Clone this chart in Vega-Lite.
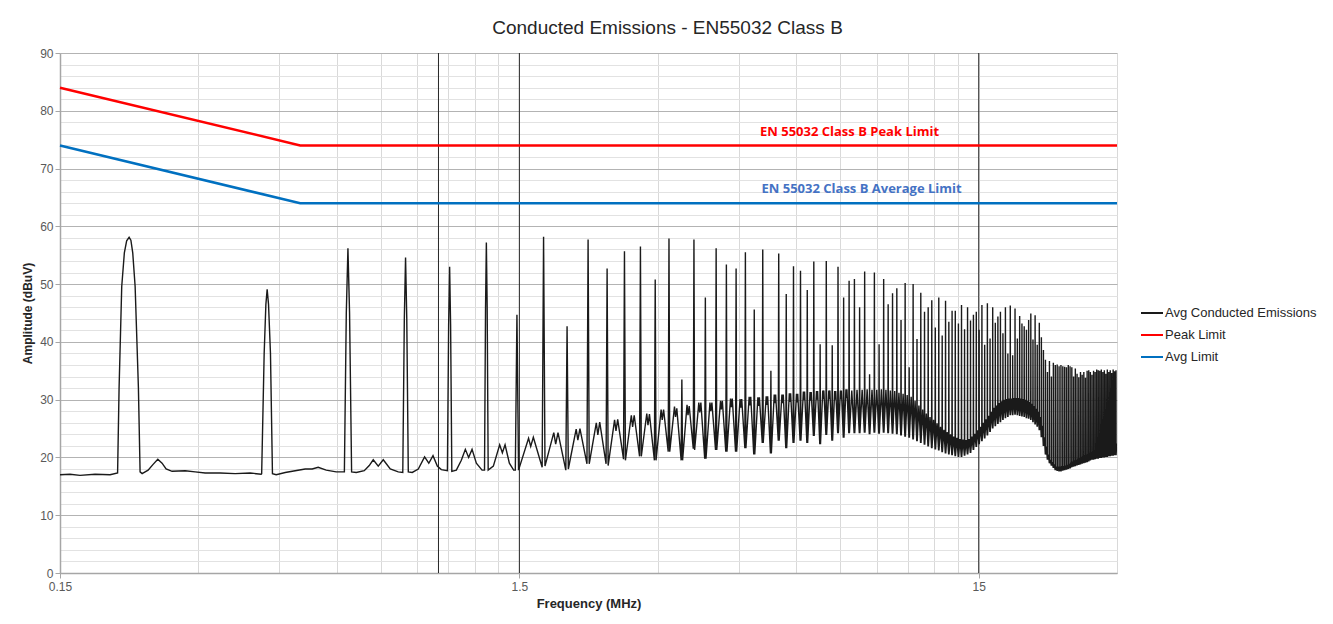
{
"$schema":"https://vega.github.io/schema/vega-lite/v6.json",
"width":1057,"height":520,
"autosize":{"type":"none"},
"padding":{"left":60,"top":53,"right":216,"bottom":51},
"background":"white",
"config":{"view":{"stroke":null},"font":"Liberation Sans"},
"title":{"text":"Conducted Emissions - EN55032 Class B","font":"Liberation Sans","fontSize":19,"fontWeight":"normal","color":"#262626","anchor":"middle","frame":"group","dx":79,"offset":9},
"datasets":{
"em":[
{"f":0.15,"v":17.0},{"f":0.1577,"v":17.1},{"f":0.1658,"v":16.9},{"f":0.1788,"v":17.1},{"f":0.1928,"v":17.0},{"f":0.2002,"v":17.3},{"f":0.2017,"v":32.0},{"f":0.2044,"v":49.6},{"f":0.2071,"v":55.4},{"f":0.2095,"v":57.5},{"f":0.2121,"v":58.1},{"f":0.2140,"v":57.6},{"f":0.2160,"v":55.4},{"f":0.2186,"v":49.6},{"f":0.2222,"v":32.2},{"f":0.2241,"v":17.5},{"f":0.2264,"v":17.2},{"f":0.2333,"v":17.8},{"f":0.2392,"v":18.8},{"f":0.2449,"v":19.7},{"f":0.2502,"v":19.0},{"f":0.2553,"v":18.0},{"f":0.2631,"v":17.6},{"f":0.2809,"v":17.7},{"f":0.2953,"v":17.5},{"f":0.3105,"v":17.3},{"f":0.3347,"v":17.3},{"f":0.3609,"v":17.2},{"f":0.3891,"v":17.3},{"f":0.4111,"v":17.1},
{"f":0.4122,"v":17.2},{"f":0.4174,"v":38.0},{"f":0.4210,"v":46.5},{"f":0.4237,"v":49.1},{"f":0.4266,"v":46.5},{"f":0.4308,"v":38.0},{"f":0.4351,"v":17.2},
{"f":0.4433,"v":17.0},{"f":0.4638,"v":17.4},{"f":0.4876,"v":17.7},{"f":0.5127,"v":18.0},{"f":0.5310,"v":18.0},{"f":0.5472,"v":18.3},{"f":0.5697,"v":17.8},{"f":0.5990,"v":17.5},
{"f":0.6240,"v":17.5},{"f":0.6300,"v":45.0},{"f":0.6352,"v":56.2},{"f":0.6404,"v":45.0},{"f":0.6470,"v":17.5},
{"f":0.6622,"v":17.4},{"f":0.6893,"v":17.7},{"f":0.7068,"v":18.6},{"f":0.7211,"v":19.6},{"f":0.7394,"v":18.5},{"f":0.7582,"v":19.6},{"f":0.7853,"v":18.0},{"f":0.8174,"v":17.5},
{"f":0.8362,"v":17.4},{"f":0.8427,"v":44.0},{"f":0.8479,"v":54.6},{"f":0.8531,"v":44.0},{"f":0.8596,"v":17.5},
{"f":0.8769,"v":17.4},{"f":0.9038,"v":18.0},{"f":0.9328,"v":20.1},{"f":0.9527,"v":19.0},{"f":0.9730,"v":20.3},{"f":0.9942,"v":18.5},{"f":1.0144,"v":17.9},
{"f":1.0458,"v":17.7},{"f":1.0523,"v":43.0},{"f":1.0575,"v":53.0},{"f":1.0627,"v":43.0},{"f":1.0692,"v":17.6},
{"f":1.0937,"v":17.8},{"f":1.1214,"v":19.5},{"f":1.1442,"v":21.4},{"f":1.1633,"v":20.0},{"f":1.1833,"v":21.4},{"f":1.2091,"v":19.0},{"f":1.2442,"v":17.8},
{"f":1.2596,"v":17.8},{"f":1.2661,"v":46.0},{"f":1.2713,"v":57.2},{"f":1.2765,"v":46.0},{"f":1.2830,"v":17.8},
{"f":1.3167,"v":18.5},{"f":1.3590,"v":22.2},{"f":1.3775,"v":20.8},{"f":1.3963,"v":22.2},{"f":1.4267,"v":19.0},{"f":1.4578,"v":17.8},
{"f":1.4699,"v":17.8},{"f":1.4819,"v":44.7},{"f":1.4939,"v":17.8},{"f":1.5708,"v":23.3},{"f":1.5878,"v":21.9},{"f":1.6089,"v":23.5},
{"f":1.6816,"v":18.3},{"f":1.6936,"v":58.2},{"f":1.7056,"v":18.5},{"f":1.7825,"v":24.3},{"f":1.7995,"v":22.3},{"f":1.8206,"v":24.3},
{"f":1.8933,"v":17.8},{"f":1.9053,"v":42.7},{"f":1.9173,"v":18.0},{"f":1.9942,"v":24.9},{"f":2.0112,"v":23.0},{"f":2.0323,"v":25.0},
{"f":2.105,"v":18.9},{"f":2.117,"v":57.7},{"f":2.129,"v":18.9},{"f":2.2059,"v":26.0},{"f":2.2229,"v":23.9},{"f":2.244,"v":26.1},
{"f":2.3167,"v":18.9},{"f":2.3287,"v":52.7},{"f":2.3407,"v":18.6},{"f":2.4176,"v":26.5},{"f":2.4346,"v":24.6},{"f":2.4557,"v":26.6},
{"f":2.5284,"v":19.7},{"f":2.5404,"v":55.7},{"f":2.5524,"v":19.5},{"f":2.6293,"v":27.3},{"f":2.6463,"v":25.3},{"f":2.6674,"v":27.3},
{"f":2.7401,"v":20.2},{"f":2.7521,"v":56.5},{"f":2.7641,"v":20.2},{"f":2.841,"v":27.6},{"f":2.858,"v":25.6},{"f":2.8791,"v":27.5},
{"f":2.9518,"v":19.5},{"f":2.9638,"v":50.8},{"f":2.9758,"v":19.5},{"f":3.0527,"v":28.3},{"f":3.0697,"v":26.5},{"f":3.0908,"v":28.3},
{"f":3.1635,"v":21.0},{"f":3.1755,"v":57.9},{"f":3.1875,"v":21.0},{"f":3.2644,"v":28.8},{"f":3.2814,"v":27.0},{"f":3.3025,"v":28.5},
{"f":3.3752,"v":19.5},{"f":3.3872,"v":33.5},{"f":3.3992,"v":19.5},{"f":3.4761,"v":29.1},{"f":3.4931,"v":27.3},{"f":3.5142,"v":28.9},
{"f":3.5869,"v":21.5},{"f":3.5989,"v":57.7},{"f":3.6109,"v":21.3},{"f":3.6878,"v":29.5},{"f":3.7048,"v":27.8},{"f":3.7259,"v":29.5},
{"f":3.7986,"v":19.8},{"f":3.8106,"v":47.7},{"f":3.8226,"v":19.8},{"f":3.8995,"v":29.5},{"f":3.9165,"v":28.0},{"f":3.9376,"v":29.5},
{"f":4.0103,"v":21.3},{"f":4.0223,"v":56.2},{"f":4.0343,"v":21.3},{"f":4.1112,"v":29.8},{"f":4.1282,"v":28.3},{"f":4.1493,"v":29.8},
{"f":4.222,"v":21.0},{"f":4.234,"v":53.4},{"f":4.246,"v":21.0},{"f":4.3229,"v":30.2},{"f":4.3399,"v":28.7},{"f":4.361,"v":30.2},
{"f":4.4337,"v":21.0},{"f":4.4457,"v":52.7},{"f":4.4577,"v":21.0},{"f":4.5346,"v":30.1},{"f":4.5516,"v":28.6},{"f":4.5727,"v":30.1},
{"f":4.6454,"v":21.6},{"f":4.6574,"v":55.5},{"f":4.6694,"v":21.6},{"f":4.7463,"v":30.5},{"f":4.7633,"v":29.0},{"f":4.7844,"v":30.5},
{"f":4.8571,"v":20.5},{"f":4.8691,"v":45.6},{"f":4.8811,"v":20.5},{"f":4.958,"v":30.4},{"f":4.975,"v":28.9},{"f":4.9961,"v":30.4},
{"f":5.0688,"v":22.5},{"f":5.0808,"v":56.0},{"f":5.0928,"v":22.5},{"f":5.1697,"v":30.6},{"f":5.1867,"v":29.1},{"f":5.2078,"v":30.6},
{"f":5.2805,"v":20.7},{"f":5.2925,"v":35.0},{"f":5.3045,"v":20.7},{"f":5.3814,"v":30.9},{"f":5.3984,"v":29.4},{"f":5.4195,"v":30.9},
{"f":5.4922,"v":22.9},{"f":5.5042,"v":55.3},{"f":5.5162,"v":22.9},{"f":5.5931,"v":30.9},{"f":5.6101,"v":29.4},{"f":5.6312,"v":30.9},
{"f":5.7039,"v":21.6},{"f":5.7159,"v":48.3},{"f":5.7279,"v":21.6},{"f":5.8048,"v":31.1},{"f":5.8218,"v":29.6},{"f":5.8429,"v":31.1},
{"f":5.9156,"v":22.5},{"f":5.9276,"v":53.1},{"f":5.9396,"v":22.5},{"f":6.0165,"v":31.0},{"f":6.0335,"v":29.5},{"f":6.0546,"v":31.0},
{"f":6.1273,"v":22.9},{"f":6.1393,"v":52.3},{"f":6.1513,"v":22.9},{"f":6.2282,"v":31.4},{"f":6.2452,"v":29.9},{"f":6.2663,"v":31.4},
{"f":6.339,"v":22.5},{"f":6.351,"v":49.0},{"f":6.363,"v":22.5},{"f":6.4399,"v":31.3},{"f":6.4569,"v":29.8},{"f":6.478,"v":31.3},
{"f":6.5507,"v":23.7},{"f":6.5627,"v":53.9},{"f":6.5747,"v":23.7},{"f":6.6516,"v":31.5},{"f":6.6686,"v":30.0},{"f":6.6897,"v":31.5},
{"f":6.7624,"v":22.3},{"f":6.7744,"v":39.6},{"f":6.7864,"v":22.3},{"f":6.8633,"v":31.6},{"f":6.8803,"v":30.1},{"f":6.9014,"v":31.6},
{"f":6.9741,"v":23.9},{"f":6.9861,"v":54.0},{"f":6.9981,"v":23.9},{"f":7.075,"v":31.6},{"f":7.092,"v":30.1},{"f":7.1131,"v":31.6},
{"f":7.1858,"v":22.9},{"f":7.1978,"v":39.4},{"f":7.2098,"v":22.9},{"f":7.2867,"v":31.5},{"f":7.3037,"v":30.0},{"f":7.3248,"v":31.5},
{"f":7.3975,"v":24.2},{"f":7.4095,"v":53.0},{"f":7.4215,"v":24.2},{"f":7.4984,"v":31.6},{"f":7.5154,"v":30.1},{"f":7.5365,"v":31.6},
{"f":7.6092,"v":23.4},{"f":7.6212,"v":47.7},{"f":7.6332,"v":23.4},{"f":7.7101,"v":31.8},{"f":7.7271,"v":30.3},{"f":7.7482,"v":31.8},
{"f":7.8209,"v":24.2},{"f":7.8329,"v":50.6},{"f":7.8449,"v":24.2},{"f":7.9388,"v":31.6},
{"f":8.0326,"v":24.2},{"f":8.0446,"v":50.9},{"f":8.0566,"v":24.2},{"f":8.1505,"v":31.7},
{"f":8.2443,"v":24.2},{"f":8.2563,"v":46.0},{"f":8.2683,"v":24.2},{"f":8.3622,"v":31.7},
{"f":8.456,"v":24.3},{"f":8.468,"v":52.2},{"f":8.48,"v":24.3},{"f":8.5739,"v":31.8},
{"f":8.6677,"v":24.0},{"f":8.6797,"v":34.4},{"f":8.6917,"v":24.0},{"f":8.7856,"v":31.7},
{"f":8.8794,"v":24.3},{"f":8.8914,"v":52.0},{"f":8.9034,"v":24.3},{"f":8.9973,"v":31.7},
{"f":9.0911,"v":24.1},{"f":9.1031,"v":39.6},{"f":9.1151,"v":24.1},{"f":9.209,"v":31.8},
{"f":9.3028,"v":24.3},{"f":9.3148,"v":50.9},{"f":9.3268,"v":24.3},{"f":9.4207,"v":31.7},
{"f":9.5145,"v":24.2},{"f":9.5265,"v":46.5},{"f":9.5385,"v":24.2},{"f":9.6324,"v":31.6},
{"f":9.7262,"v":24.1},{"f":9.7382,"v":48.4},{"f":9.7502,"v":24.1},{"f":9.8441,"v":31.5},
{"f":9.9379,"v":24.0},{"f":9.9499,"v":49.3},{"f":9.9619,"v":24.0},{"f":10.0558,"v":31.2},
{"f":10.1496,"v":23.8},{"f":10.1616,"v":43.8},{"f":10.1736,"v":23.8},{"f":10.2675,"v":31.0},
{"f":10.3613,"v":23.6},{"f":10.3733,"v":50.2},{"f":10.3853,"v":23.6},{"f":10.4792,"v":30.8},
{"f":10.573,"v":23.4},{"f":10.585,"v":35.6},{"f":10.597,"v":23.4},{"f":10.6909,"v":30.5},
{"f":10.7847,"v":23.1},{"f":10.7967,"v":50.0},{"f":10.8087,"v":23.1},{"f":10.9026,"v":29.8},
{"f":10.9964,"v":22.8},{"f":11.0084,"v":40.5},{"f":11.0204,"v":22.8},{"f":11.1143,"v":29.0},
{"f":11.2081,"v":22.5},{"f":11.2201,"v":48.5},{"f":11.2321,"v":22.5},{"f":11.326,"v":28.3},
{"f":11.4198,"v":22.2},{"f":11.4318,"v":45.2},{"f":11.4438,"v":22.2},{"f":11.5377,"v":27.6},
{"f":11.6315,"v":21.9},{"f":11.6435,"v":46.0},{"f":11.6555,"v":21.9},{"f":11.7494,"v":27.0},
{"f":11.8432,"v":21.6},{"f":11.8552,"v":47.2},{"f":11.8672,"v":21.6},{"f":11.9611,"v":26.5},
{"f":12.0549,"v":21.4},{"f":12.0669,"v":42.5},{"f":12.0789,"v":21.4},{"f":12.1728,"v":25.9},
{"f":12.2666,"v":21.2},{"f":12.2786,"v":47.7},{"f":12.2906,"v":21.2},{"f":12.3845,"v":25.3},
{"f":12.4783,"v":20.9},{"f":12.4903,"v":41.1},{"f":12.5023,"v":20.9},{"f":12.5962,"v":24.8},
{"f":12.69,"v":20.7},{"f":12.702,"v":47.1},{"f":12.714,"v":20.7},{"f":12.8079,"v":24.4},
{"f":12.9017,"v":20.5},{"f":12.9137,"v":43.5},{"f":12.9257,"v":20.5},{"f":13.0196,"v":24.0},
{"f":13.1134,"v":20.4},{"f":13.1254,"v":45.4},{"f":13.1374,"v":20.4},{"f":13.2313,"v":23.6},
{"f":13.3251,"v":20.2},{"f":13.3371,"v":45.4},{"f":13.3491,"v":20.2},{"f":13.443,"v":23.4},
{"f":13.5368,"v":20.1},{"f":13.5488,"v":43.2},{"f":13.5608,"v":20.1},{"f":13.6547,"v":23.2},
{"f":13.7485,"v":20.1},{"f":13.7605,"v":46.4},{"f":13.7725,"v":20.1},{"f":13.8664,"v":23.1},
{"f":13.9602,"v":20.3},{"f":13.9722,"v":42.2},{"f":13.9842,"v":20.3},{"f":14.0781,"v":23.0},
{"f":14.1719,"v":20.5},{"f":14.1839,"v":46.0},{"f":14.1959,"v":20.5},{"f":14.2898,"v":23.2},
{"f":14.3836,"v":20.8},{"f":14.3956,"v":43.7},{"f":14.4076,"v":20.8},{"f":14.5015,"v":23.6},
{"f":14.5953,"v":21.3},{"f":14.6073,"v":44.7},{"f":14.6193,"v":21.3},{"f":14.7132,"v":24.1},
{"f":14.807,"v":21.8},{"f":14.819,"v":45.2},{"f":14.831,"v":21.8},{"f":14.9249,"v":24.7},
{"f":15.0187,"v":22.3},{"f":15.0307,"v":42.1},{"f":15.0427,"v":22.3},{"f":15.1366,"v":25.3},
{"f":15.2304,"v":22.8},{"f":15.2424,"v":46.4},{"f":15.2544,"v":22.8},{"f":15.3483,"v":26.0},
{"f":15.4421,"v":23.3},{"f":15.4541,"v":39.5},{"f":15.4661,"v":23.3},{"f":15.56,"v":26.6},
{"f":15.6538,"v":23.8},{"f":15.6658,"v":46.7},{"f":15.6778,"v":23.8},{"f":15.7717,"v":27.2},
{"f":15.8655,"v":24.4},{"f":15.8775,"v":40.6},{"f":15.8895,"v":24.4},{"f":15.9834,"v":27.9},
{"f":16.0772,"v":25.0},{"f":16.0892,"v":46.0},{"f":16.1012,"v":25.0},{"f":16.1951,"v":28.6},
{"f":16.2889,"v":25.4},{"f":16.3009,"v":43.3},{"f":16.3129,"v":25.4},{"f":16.4068,"v":29.0},
{"f":16.5006,"v":25.8},{"f":16.5126,"v":44.4},{"f":16.5246,"v":25.8},{"f":16.6185,"v":29.4},
{"f":16.7123,"v":26.1},{"f":16.7243,"v":45.2},{"f":16.7363,"v":26.1},{"f":16.8302,"v":29.7},
{"f":16.924,"v":26.5},{"f":16.936,"v":41.5},{"f":16.948,"v":26.5},{"f":17.0419,"v":30.0},
{"f":17.1357,"v":26.8},{"f":17.1477,"v":46.0},{"f":17.1597,"v":26.8},{"f":17.2536,"v":30.1},
{"f":17.3474,"v":27.0},{"f":17.3594,"v":38.0},{"f":17.3714,"v":27.0},{"f":17.4653,"v":30.2},
{"f":17.5591,"v":27.3},{"f":17.5711,"v":46.3},{"f":17.5831,"v":27.3},{"f":17.677,"v":30.2},
{"f":17.7708,"v":27.3},{"f":17.7828,"v":37.7},{"f":17.7948,"v":27.3},{"f":17.8887,"v":30.3},
{"f":17.9825,"v":27.4},{"f":17.9945,"v":45.8},{"f":18.0065,"v":27.4},{"f":18.1004,"v":30.3},
{"f":18.1942,"v":27.3},{"f":18.2062,"v":40.6},{"f":18.2182,"v":27.3},{"f":18.3121,"v":30.3},
{"f":18.4059,"v":27.2},{"f":18.4179,"v":44.5},{"f":18.4299,"v":27.2},{"f":18.5238,"v":30.2},
{"f":18.6176,"v":27.1},{"f":18.6296,"v":43.2},{"f":18.6416,"v":27.1},{"f":18.7355,"v":30.1},
{"f":18.8293,"v":27.0},{"f":18.8413,"v":42.7},{"f":18.8533,"v":27.0},{"f":18.9472,"v":30.0},
{"f":19.041,"v":26.8},{"f":19.053,"v":42.1},{"f":19.065,"v":26.8},{"f":19.1589,"v":29.8},
{"f":19.2527,"v":26.7},{"f":19.2647,"v":43.8},{"f":19.2767,"v":26.7},{"f":19.3706,"v":29.6},
{"f":19.4644,"v":26.5},{"f":19.4764,"v":44.9},{"f":19.4884,"v":26.5},{"f":19.5823,"v":29.3},
{"f":19.6761,"v":26.1},{"f":19.6881,"v":40.4},{"f":19.7001,"v":26.1},{"f":19.794,"v":28.9},
{"f":19.8878,"v":25.7},{"f":19.8998,"v":44.6},{"f":19.9118,"v":25.7},{"f":20.0057,"v":28.4},
{"f":20.0995,"v":25.3},{"f":20.1115,"v":39.5},{"f":20.1235,"v":25.3},{"f":20.2174,"v":27.9},
{"f":20.3112,"v":24.7},{"f":20.3232,"v":43.3},{"f":20.3352,"v":24.7},{"f":20.4291,"v":27.0},
{"f":20.5229,"v":23.5},{"f":20.5349,"v":40.8},{"f":20.5469,"v":23.5},{"f":20.6408,"v":25.5},
{"f":20.7346,"v":22.0},{"f":20.7466,"v":38.6},{"f":20.7586,"v":22.0},{"f":20.8525,"v":23.5},
{"f":20.9463,"v":20.5},{"f":20.9583,"v":36.9},{"f":20.9703,"v":20.5},{"f":21.0642,"v":21.9},
{"f":21.158,"v":19.6},{"f":21.17,"v":34.8},{"f":21.182,"v":19.6},{"f":21.2759,"v":20.5},
{"f":21.3697,"v":19.0},{"f":21.3817,"v":36.7},{"f":21.3937,"v":19.0},{"f":21.4876,"v":19.6},
{"f":21.5814,"v":18.6},{"f":21.5934,"v":34.0},{"f":21.6054,"v":18.6},{"f":21.6993,"v":19.2},
{"f":21.7931,"v":18.2},{"f":21.8051,"v":36.4},{"f":21.8171,"v":18.2},{"f":21.911,"v":18.8},
{"f":22.0048,"v":17.8},{"f":22.0168,"v":36.0},{"f":22.0288,"v":17.8},{"f":22.1227,"v":18.4},
{"f":22.2165,"v":17.7},{"f":22.2285,"v":36.1},{"f":22.2405,"v":17.7},{"f":22.3344,"v":18.4},
{"f":22.4282,"v":17.6},{"f":22.4402,"v":35.8},{"f":22.4522,"v":17.6},{"f":22.5461,"v":18.4},
{"f":22.6399,"v":17.6},{"f":22.6519,"v":36.0},{"f":22.6639,"v":17.6},{"f":22.7578,"v":18.5},
{"f":22.8516,"v":17.7},{"f":22.8636,"v":35.8},{"f":22.8756,"v":17.7},{"f":22.9695,"v":18.5},
{"f":23.0633,"v":17.8},{"f":23.0753,"v":35.7},{"f":23.0873,"v":17.8},{"f":23.1812,"v":18.6},
{"f":23.275,"v":17.9},{"f":23.287,"v":35.6},{"f":23.299,"v":17.9},{"f":23.3929,"v":18.7},
{"f":23.4867,"v":18.0},{"f":23.4987,"v":36.0},{"f":23.5107,"v":18.0},{"f":23.6046,"v":18.9},
{"f":23.6984,"v":18.1},{"f":23.7104,"v":35.8},{"f":23.7224,"v":18.1},{"f":23.8163,"v":19.1},
{"f":23.9101,"v":18.3},{"f":23.9221,"v":35.6},{"f":23.9341,"v":18.3},{"f":24.028,"v":19.3},
{"f":24.1218,"v":18.4},{"f":24.1338,"v":34.0},{"f":24.1458,"v":18.4},{"f":24.2397,"v":19.5},
{"f":24.3335,"v":18.5},{"f":24.3455,"v":35.4},{"f":24.3575,"v":18.5},{"f":24.4514,"v":19.6},
{"f":24.5452,"v":18.6},{"f":24.5572,"v":34.5},{"f":24.5692,"v":18.6},{"f":24.6631,"v":19.8},
{"f":24.7569,"v":18.7},{"f":24.7689,"v":33.9},{"f":24.7809,"v":18.7},{"f":24.8748,"v":19.9},
{"f":24.9686,"v":18.8},{"f":24.9806,"v":34.8},{"f":24.9926,"v":18.8},{"f":25.0865,"v":20.1},
{"f":25.1803,"v":18.9},{"f":25.1923,"v":34.3},{"f":25.2043,"v":18.9},{"f":25.2982,"v":20.2},
{"f":25.392,"v":19.0},{"f":25.404,"v":34.8},{"f":25.416,"v":19.0},{"f":25.5099,"v":20.4},
{"f":25.6037,"v":19.1},{"f":25.6157,"v":33.8},{"f":25.6277,"v":19.1},{"f":25.7216,"v":20.5},
{"f":25.8154,"v":19.2},{"f":25.8274,"v":35.0},{"f":25.8394,"v":19.2},{"f":25.9333,"v":20.6},
{"f":26.0271,"v":19.3},{"f":26.0391,"v":35.1},{"f":26.0511,"v":19.3},{"f":26.145,"v":20.8},
{"f":26.2388,"v":19.5},{"f":26.2508,"v":34.8},{"f":26.2628,"v":19.5},{"f":26.3567,"v":20.9},
{"f":26.4505,"v":19.6},{"f":26.4625,"v":34.3},{"f":26.4745,"v":19.6},{"f":26.5684,"v":21.0},
{"f":26.6622,"v":19.6},{"f":26.6742,"v":35.0},{"f":26.6862,"v":19.6},{"f":26.7801,"v":21.2},
{"f":26.8739,"v":19.7},{"f":26.8859,"v":34.8},{"f":26.8979,"v":19.7},{"f":26.9918,"v":21.3},
{"f":27.0856,"v":19.8},{"f":27.0976,"v":35.2},{"f":27.1096,"v":19.8},{"f":27.2035,"v":21.4},
{"f":27.2973,"v":19.8},{"f":27.3093,"v":35.1},{"f":27.3213,"v":19.8},{"f":27.4152,"v":21.5},
{"f":27.509,"v":19.9},{"f":27.521,"v":35.0},{"f":27.533,"v":19.9},{"f":27.6269,"v":21.6},
{"f":27.7207,"v":19.9},{"f":27.7327,"v":35.2},{"f":27.7447,"v":19.9},{"f":27.8386,"v":21.7},
{"f":27.9324,"v":20.0},{"f":27.9444,"v":34.8},{"f":27.9564,"v":20.0},{"f":28.0503,"v":21.8},
{"f":28.1441,"v":20.0},{"f":28.1561,"v":35.1},{"f":28.1681,"v":20.0},{"f":28.262,"v":21.9},
{"f":28.3558,"v":20.1},{"f":28.3678,"v":34.5},{"f":28.3798,"v":20.1},{"f":28.4737,"v":22.0},
{"f":28.5675,"v":20.1},{"f":28.5795,"v":35.2},{"f":28.5915,"v":20.1},{"f":28.6854,"v":22.0},
{"f":28.7792,"v":20.2},{"f":28.7912,"v":34.8},{"f":28.8032,"v":20.2},{"f":28.8971,"v":22.1},
{"f":28.9909,"v":20.2},{"f":29.0029,"v":35.1},{"f":29.0149,"v":20.2},{"f":29.1088,"v":22.2},
{"f":29.2026,"v":20.3},{"f":29.2146,"v":34.6},{"f":29.2266,"v":20.3},{"f":29.3205,"v":22.3},
{"f":29.4143,"v":20.3},{"f":29.4263,"v":35.2},{"f":29.4383,"v":20.3},{"f":29.5322,"v":22.3},
{"f":29.626,"v":20.4},{"f":29.638,"v":34.9},{"f":29.65,"v":20.4},{"f":29.7439,"v":22.4},
{"f":29.8377,"v":20.4},{"f":29.8497,"v":35.1},{"f":29.8617,"v":20.4},{"f":29.9556,"v":22.4},
{"f":30.0,"v":21.5}
],
"pk":[{"f":0.15,"v":84},{"f":0.5,"v":74},{"f":30,"v":74}],
"av":[{"f":0.15,"v":74},{"f":0.5,"v":64},{"f":30,"v":64}],
"mj":[{"f":1,"v":0,"v2":90},{"f":1.5,"v":0,"v2":90},{"f":15,"v":0,"v2":90}]
},
"encoding":{
"x":{"field":"f","type":"quantitative","scale":{"type":"log","domain":[0.15,30],"nice":false},
 "axis":{"title":"Frequency (MHz)","values":[0.15,0.3,0.45,0.6,0.75,0.9,1.05,1.2,1.35,1.5,3,4.5,6,7.5,9,10.5,12,13.5,15,30],
  "labelExpr":"(datum.value==0.15||datum.value==1.5||datum.value==15) ? format(datum.value,'~g') : ''",
  "labelOverlap":false,"labelFlush":false,"labelFont":"Liberation Sans","labelFontSize":12,"labelColor":"#595959","labelPadding":3,
  "tickSize":5,"tickColor":{"condition":{"test":"datum.value==0.15||datum.value==1.5||datum.value==15","value":"#a6a6a6"},"value":"transparent"},
  "gridColor":"#d9d9d9","gridWidth":1,"domainColor":"#a6a6a6","domainWidth":1.5,
  "titleFont":"Liberation Sans","titleFontSize":13,"titleFontWeight":"bold","titleColor":"#262626","titlePadding":5}},
"y":{"field":"v","type":"quantitative","scale":{"domain":[0,90],"nice":false},
 "axis":{"title":"Amplitude (dBuV)","values":[0,2,4,6,8,10,12,14,16,18,20,22,24,26,28,30,32,34,36,38,40,42,44,46,48,50,52,54,56,58,60,62,64,66,68,70,72,74,76,78,80,82,84,86,88,90],
  "labelExpr":"datum.value % 10 == 0 ? datum.label : ''","labelOverlap":false,"labelFont":"Liberation Sans","labelFontSize":12,"labelColor":"#595959","labelPadding":2,
  "tickSize":5,"tickColor":{"condition":{"test":"datum.value % 10 == 0","value":"#a6a6a6"},"value":"transparent"},
  "gridColor":{"condition":{"test":"datum.value % 10 == 0","value":"#b3b3b3"},"value":"#e2e2e2"},
  "domainColor":"#a6a6a6","domainWidth":1.5,
  "titleFont":"Liberation Sans","titleFontSize":12,"titleFontWeight":"bold","titleColor":"#262626","titlePadding":5}}
},
"layer":[
{"data":{"name":"mj"},"mark":{"type":"rule","color":"#262626","strokeWidth":1},"encoding":{"y2":{"field":"v2"}}},
{"data":{"name":"em"},"mark":{"type":"line","strokeWidth":1.4,"clip":true},
 "encoding":{"color":{"datum":"Avg Conducted Emissions","type":"nominal",
  "scale":{"domain":["Avg Conducted Emissions","Peak Limit","Avg Limit"],"range":["#1a1a1a","#FF0000","#0070C0"]},
  "legend":{"orient":"none","legendX":1080,"legendY":248,"title":null,"padding":0,"symbolType":"stroke","symbolSize":484,"symbolStrokeWidth":2,"labelFont":"Liberation Sans","labelFontSize":13,"labelColor":"#262626","labelOffset":1,"rowPadding":3}}}},
{"data":{"name":"pk"},"mark":{"type":"line","strokeWidth":2.5},"encoding":{"color":{"datum":"Peak Limit","type":"nominal"}}},
{"data":{"name":"av"},"mark":{"type":"line","strokeWidth":2.5},"encoding":{"color":{"datum":"Avg Limit","type":"nominal"}}},
{"data":{"values":[{"f":7.85,"v":76.3,"t":"EN 55032 Class B Peak Limit"}]},"mark":{"type":"text","color":"#FF0000","font":"Open Sans","fontWeight":"bold","fontSize":13,"baseline":"middle","align":"center"},"encoding":{"text":{"field":"t"}}},
{"data":{"values":[{"f":8.34,"v":66.4,"t":"EN 55032 Class B Average Limit"}]},"mark":{"type":"text","color":"#4472C4","font":"Open Sans","fontWeight":"bold","fontSize":13,"baseline":"middle","align":"center"},"encoding":{"text":{"field":"t"}}}
]
}
